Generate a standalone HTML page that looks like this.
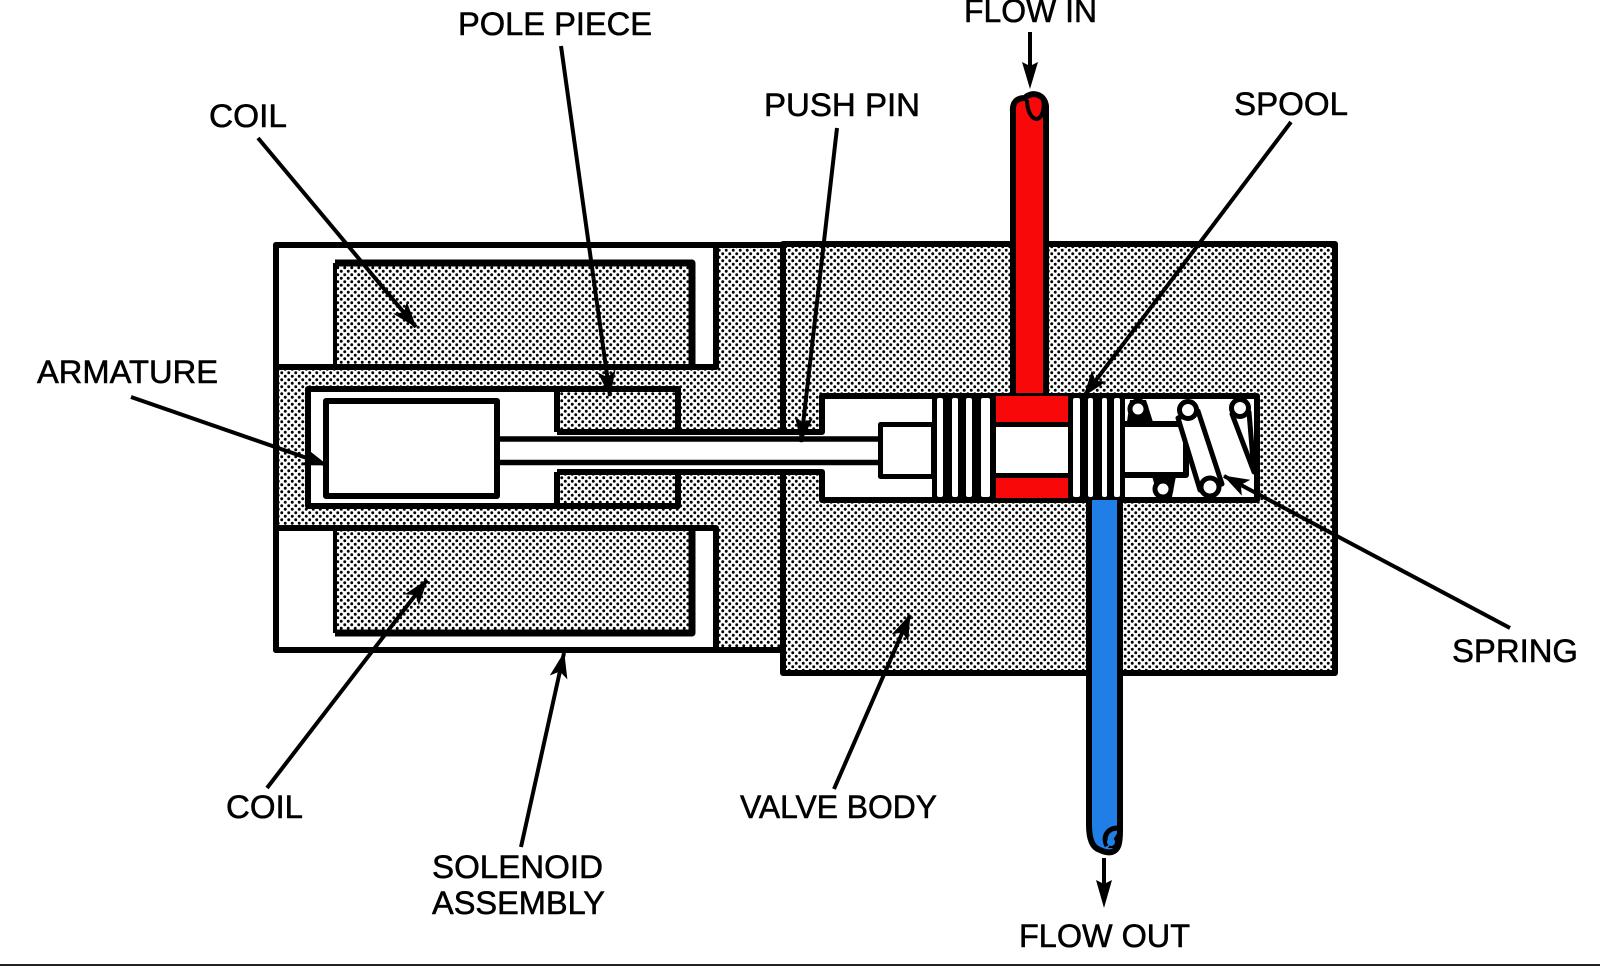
<!DOCTYPE html>
<html lang="en">
<head>
<meta charset="utf-8">
<title>Solenoid valve diagram</title>
<style>
html,body{margin:0;padding:0;background:#fff;width:1600px;height:966px;overflow:hidden}
svg{display:block}
svg *{stroke-linejoin:round}
text{font-family:"Liberation Sans",sans-serif;font-size:32px;fill:#000;stroke:#000;stroke-width:.55px}
</style>
</head>
<body>
<svg width="1600" height="966" viewBox="0 0 1600 966" xmlns="http://www.w3.org/2000/svg">
<defs>
<pattern id="st" width="7" height="7" patternUnits="userSpaceOnUse">
<rect width="7" height="7" fill="#fff"/>
<circle cx="1.75" cy="1.75" r="1.45" fill="#000"/>
<circle cx="5.25" cy="5.25" r="1.45" fill="#000"/>
</pattern>
<marker id="ah" viewBox="0 0 26 18" refX="25" refY="9" markerWidth="26" markerHeight="18" markerUnits="userSpaceOnUse" orient="auto">
<path d="M0 0 L26 9 L0 18 L6 9 Z" fill="#000"/>
</marker>
</defs>
<rect width="1600" height="966" fill="#fff"/>

<!-- solenoid -->
<rect x="276" y="245" width="507" height="405" fill="url(#st)" stroke="#000" stroke-width="6"/>
<path d="M276 245H716V367H276Z" fill="#fff" stroke="#000" stroke-width="6"/>
<path d="M276 528H716V650H276Z" fill="#fff" stroke="#000" stroke-width="6"/>
<rect x="335" y="263" width="358" height="104" fill="url(#st)"/>
<path d="M335 367V263" stroke="#000" stroke-width="4" fill="none"/>
<path d="M335 263H692V367" stroke="#000" stroke-width="7" fill="none"/>
<rect x="335" y="528" width="358" height="105" fill="url(#st)"/>
<path d="M335 528V633" stroke="#000" stroke-width="4" fill="none"/>
<path d="M335 633H692V528" stroke="#000" stroke-width="7" fill="none"/>
<path d="M276 367H716M276 528H716" stroke="#000" stroke-width="6"/>

<!-- valve body -->
<rect x="783" y="244" width="552" height="429" fill="url(#st)" stroke="#000" stroke-width="6"/>

<!-- chamber of solenoid -->
<rect x="308" y="389" width="370" height="117" fill="#fff" stroke="#000" stroke-width="6"/>
<rect x="557" y="389" width="121" height="43" fill="url(#st)" stroke="#000" stroke-width="6"/>
<rect x="557" y="472" width="121" height="34" fill="url(#st)" stroke="#000" stroke-width="6"/>

<!-- valve chamber -->
<rect x="822" y="396" width="435" height="104" fill="#fff" stroke="#000" stroke-width="6"/>
<rect x="497" y="432" width="385" height="40" fill="#fff"/>
<rect x="819" y="432" width="63" height="40" fill="#fff"/>
<path d="M557 432H822V396M557 472H822V500" fill="none" stroke="#000" stroke-width="6"/>

<!-- armature and pin -->
<rect x="326" y="401" width="171" height="95" fill="#fff" stroke="#000" stroke-width="6"/>
<path d="M497 439H880M497 462.500H880" stroke="#000" stroke-width="5.500"/>

<!-- spool -->
<rect x="880.500" y="424.500" width="53" height="52" fill="#fff" stroke="#000" stroke-width="5"/>
<rect x="932" y="396" width="193" height="104" fill="#000"/>
<g fill="#fff">
<rect x="937" y="398" width="6" height="99" rx="2"/>
<rect x="952" y="398" width="6" height="99" rx="2"/>
<rect x="966" y="398" width="6" height="99" rx="2"/>
<rect x="981" y="398" width="9" height="99" rx="2"/>
<rect x="1073" y="398" width="7" height="99" rx="2"/>
<rect x="1088" y="398" width="5" height="99" rx="2"/>
<rect x="1102" y="398" width="5" height="99" rx="2"/>
<rect x="1114" y="398" width="6" height="99" rx="2"/>
<rect x="996" y="427" width="72" height="46"/>
</g>
<rect x="996" y="396" width="72" height="26" fill="#f80808"/>
<rect x="996" y="478" width="72" height="20" fill="#f80808"/>

<!-- spring -->
<path d="M1125 424H1186V475H1125" fill="#fff" stroke="#000" stroke-width="6"/>
<path d="M1127 422L1130 400L1146 400L1153 422Z" fill="#000"/>
<path d="M1152 476L1158 497H1172L1176 476Z" fill="#000"/>
<g stroke="#000" stroke-width="5" fill="#fff">
<path d="M1178 418L1200 490L1222 484L1198 411Z"/>
<path d="M1232 414L1254 472L1249 412Z"/>
<circle cx="1138" cy="409" r="8"/>
<circle cx="1188" cy="410" r="8.500"/>
<circle cx="1240" cy="408" r="8.500"/>
<circle cx="1163" cy="489" r="8"/>
<circle cx="1210" cy="487" r="9"/>
</g>

<!-- flow in -->
<path d="M1013 393V112C1012 102 1017 98 1025 98C1030 92 1044 92 1046 106V393" fill="#f80808" stroke="#000" stroke-width="6"/>
<path d="M1027 100C1027 110 1031 119 1037 119C1044 117 1045 104 1042 97" fill="none" stroke="#000" stroke-width="4"/>

<!-- flow out -->
<path d="M1089 500V825C1089 840 1093 848 1100 850C1104 852 1108 853 1112 852C1118 850 1120 845 1120 830V500" fill="#1f7fe6" stroke="#000" stroke-width="6"/>
<path d="M1107 846C1102 836 1108 828 1118 828" fill="none" stroke="#000" stroke-width="5"/>
<path d="M1108 848L1118 832L1118 848Z" fill="#000"/>
<ellipse cx="1111" cy="842" rx="4" ry="4" fill="#1f7fe6"/>

<!-- leaders -->
<g stroke="#000" stroke-width="4" fill="none">
<line x1="258" y1="138" x2="416" y2="327" marker-end="url(#ah)"/>
<line x1="561" y1="46" x2="610" y2="396" marker-end="url(#ah)"/>
<line x1="837" y1="128" x2="801" y2="442" marker-end="url(#ah)"/>
<line x1="1291" y1="122" x2="1084" y2="396" marker-end="url(#ah)"/>
<line x1="131" y1="397" x2="327" y2="465" marker-end="url(#ah)"/>
<line x1="1510" y1="628" x2="1224" y2="476" marker-end="url(#ah)"/>
<line x1="267" y1="788" x2="427" y2="580" marker-end="url(#ah)"/>
<line x1="521" y1="847" x2="564" y2="653" marker-end="url(#ah)"/>
<line x1="834" y1="789" x2="910" y2="615" marker-end="url(#ah)"/>
<line x1="1030" y1="32" x2="1030" y2="70"/>
<line x1="1104" y1="858" x2="1104" y2="890"/>
</g>
<path d="M1022 62L1030 66L1038 62L1030 89Z" fill="#000"/>
<path d="M1096 880L1104 884L1112 880L1104 908Z" fill="#000"/>

<!-- labels -->
<text x="458" y="35" textLength="194" lengthAdjust="spacingAndGlyphs">POLE PIECE</text>
<text x="964" y="22" textLength="133" lengthAdjust="spacingAndGlyphs">FLOW IN</text>
<text x="209" y="127" textLength="78" lengthAdjust="spacingAndGlyphs">COIL</text>
<text x="764" y="116" textLength="156" lengthAdjust="spacingAndGlyphs">PUSH PIN</text>
<text x="1234" y="115" textLength="114" lengthAdjust="spacingAndGlyphs">SPOOL</text>
<text x="37" y="383" textLength="181" lengthAdjust="spacingAndGlyphs">ARMATURE</text>
<text x="1452" y="662" textLength="126" lengthAdjust="spacingAndGlyphs">SPRING</text>
<text x="226" y="818" textLength="77" lengthAdjust="spacingAndGlyphs">COIL</text>
<text x="740" y="818" textLength="197" lengthAdjust="spacingAndGlyphs">VALVE BODY</text>
<text x="432" y="878" textLength="171" lengthAdjust="spacingAndGlyphs">SOLENOID</text>
<text x="432" y="914" textLength="173" lengthAdjust="spacingAndGlyphs">ASSEMBLY</text>
<text x="1019" y="947" textLength="171" lengthAdjust="spacingAndGlyphs">FLOW OUT</text>

<!-- bottom rule -->
<rect x="0" y="964" width="1600" height="2" fill="#222"/>
</svg>
</body>
</html>
